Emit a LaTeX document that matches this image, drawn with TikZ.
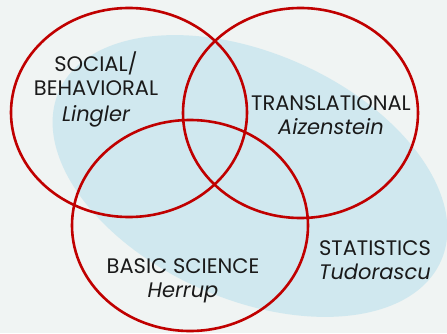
\documentclass[tikz,border=0pt]{standalone}
\usepackage{fontspec}
\setmainfont{Poppins}
\definecolor{bg}{HTML}{F0F4F3}
\definecolor{lblue}{HTML}{D0E8EF}
\definecolor{vred}{HTML}{C00000}
\definecolor{txt}{HTML}{1A1A1A}
\tikzset{
  venn/.style={draw=vred, line width=2.6pt},
  lbl/.style={text=txt, align=center, font=\fontsize{21}{24}\selectfont, inner sep=0pt}
}
\begin{document}
\begin{tikzpicture}[x=1pt,y=1pt]
\fill[bg] (0,0) rectangle (447,333);
\useasboundingbox (0,0) rectangle (447,333);
\fill[lblue] (250,157) ellipse [x radius=209pt, y radius=123pt, rotate=-24];
\draw[venn] (129,220.5) ellipse [x radius=118pt, y radius=104.5pt];
\draw[venn] (300.5,220) ellipse [x radius=117.5pt, y radius=105pt];
\draw[venn] (190,107.5) ellipse [x radius=118pt, y radius=105.5pt];
\node[lbl] (soc) at (96,244) {SOCIAL/\\BEHAVIORAL\\[2pt]\itshape Lingler};
\node[lbl] (tra) at (331,218) {TRANSLATIONAL\\\itshape Aizenstein};
\node[lbl] (bas) at (183,52) {BASIC SCIENCE\\\itshape Herrup};
\node[lbl] (sta) at (375,73) {STATISTICS\\\itshape Tudorascu};
\end{tikzpicture}
\end{document}
